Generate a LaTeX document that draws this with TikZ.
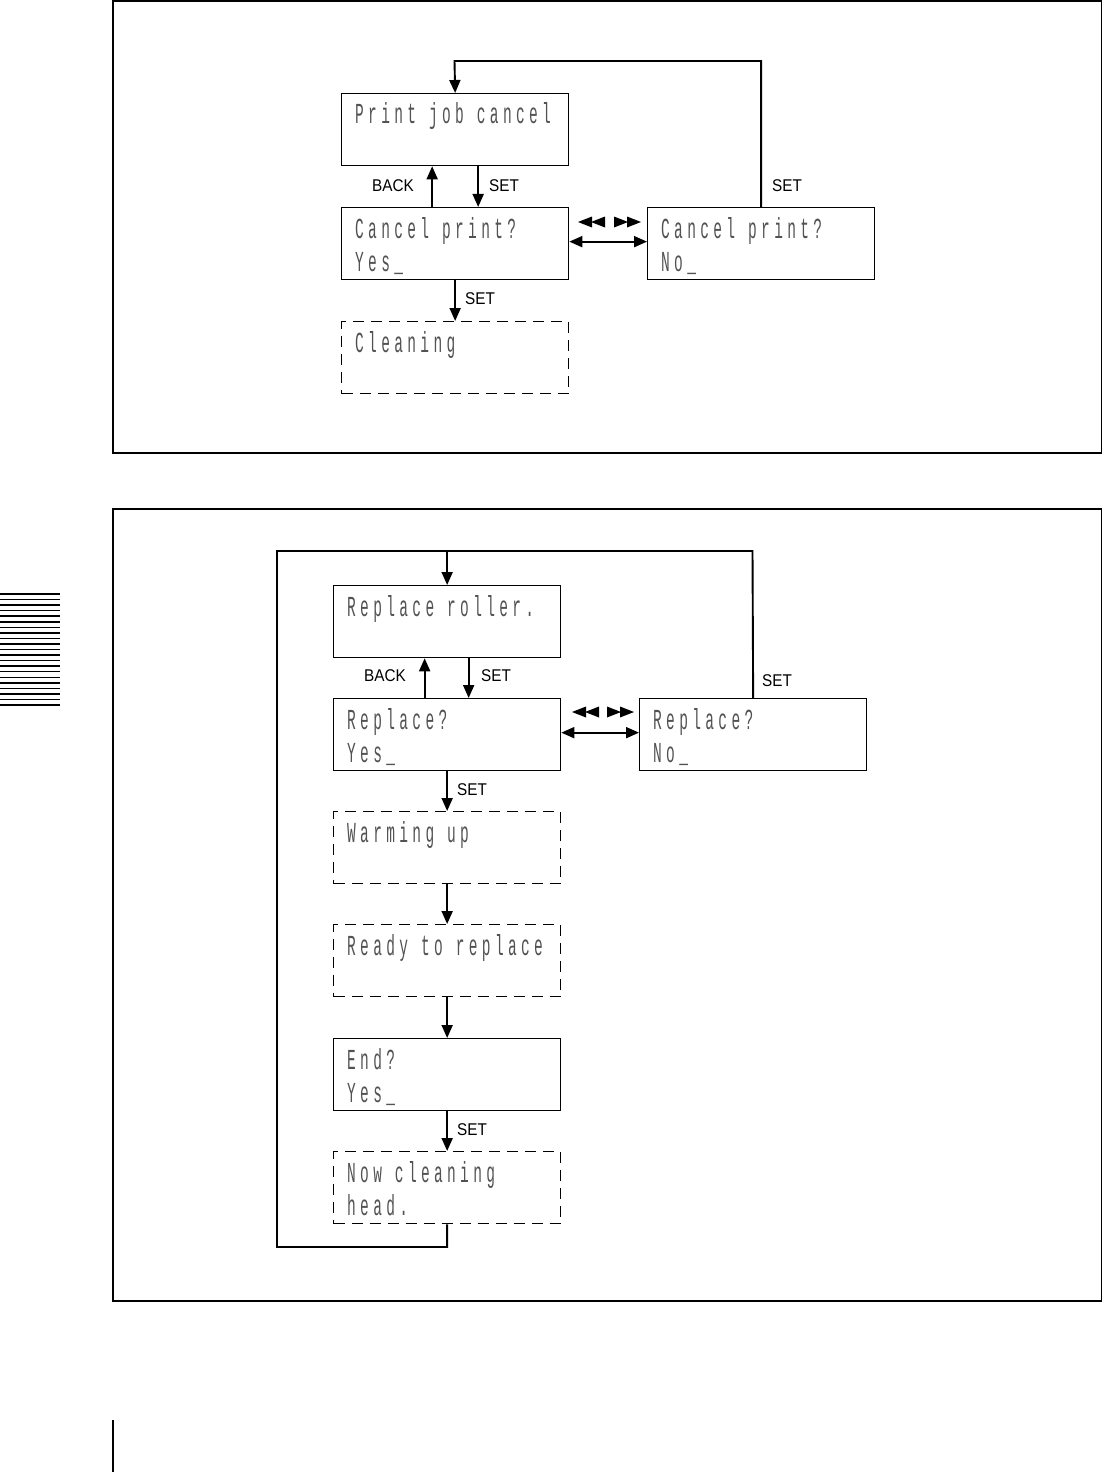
\documentclass[tikz,border=0pt]{standalone}
\usepackage{fontspec}
\setmainfont{Liberation Sans}
\newfontfamily\lcd[FakeStretch=0.5,LetterSpace=15]{Liberation Mono}
\newfontfamily\lab[FakeStretch=0.9]{Liberation Sans}
\usetikzlibrary{arrows.meta}
\newcommand\lsp{\hspace*{13bp}}
\newcommand\lcdpanel[6]{%
  \node[#2, anchor=north west] (#1) at (#3,#4) {};
  \node[lcdtext] (#1-a) at ([xshift=14bp,yshift=-31bp]#1.north west) {#5};
  \node[lcdtext] (#1-b) at ([xshift=14bp,yshift=-64bp]#1.north west) {#6};
}
\newcommand\rewsym[2]{%
  \fill (#1,#2) -- ++(14,-5.5) -- ++(0,11) -- cycle;
  \fill (#1+13,#2) -- ++(14,-5.5) -- ++(0,11) -- cycle;
}
\newcommand\ffsym[2]{%
  \fill (#1,#2) -- ++(14,0) -- ++(-14,-5.5) -- cycle;
  \fill (#1,#2) -- ++(0,5.5) -- ++(14,-5.5) -- cycle;
  \fill (#1+13,#2) -- ++(0,-5.5) -- ++(14,5.5) -- ++(-14,5.5) -- cycle;
}
\begin{document}
\begin{tikzpicture}[x=1bp,y=-1bp,
  solidbox/.style={draw, line width=1.3bp, minimum width=227bp, minimum height=72bp, inner sep=0pt},
  dashbox/.style={solidbox, dash pattern=on 11bp off 7bp},
  lcdtext/.style={anchor=base west, inner sep=0pt, font=\lcd\fontsize{29bp}{33bp}\selectfont, text=black!68},
  lbl/.style={font=\lab\fontsize{17bp}{20bp}\selectfont, inner sep=0pt},
  conn/.style={line width=1.9bp},
  arr/.style={conn, -{Triangle[length=13bp,width=11bp]}},
  arr2/.style={conn, {Triangle[length=13bp,width=11bp]}-{Triangle[length=13bp,width=11bp]}},
  frame/.style={line width=1.5bp}]
\useasboundingbox (0,0) rectangle (1103,1472);
% frames
\draw[frame] (113,1) rectangle (1101.5,453);
\draw[frame] (113,509) rectangle (1101.5,1301);
\draw[frame] (113,1420) -- (113,1472);
\foreach \i in {0,...,20} { \draw[line width=1.5bp] (0,594+\i*5.55) -- (60,594+\i*5.55); }
% top diagram
\lcdpanel{top1}{solidbox}{341}{93}{Print\lsp job\lsp cancel}{}
\lcdpanel{yes1}{solidbox}{341}{207}{Cancel\lsp print?}{Yes\_}
\lcdpanel{no1}{solidbox}{647}{207}{Cancel\lsp print?}{No\_}
\lcdpanel{cln1}{dashbox}{341}{321}{Cleaning}{}
\draw[arr] ([xshift=-23bp]yes1.north) -- ([xshift=-23bp]top1.south);
\draw[arr] ([xshift=23bp]top1.south) -- ([xshift=23bp]yes1.north);
\draw[arr] (yes1.south) -- (cln1.north);
\draw[arr2] ([yshift=2bp]yes1.east) -- ([yshift=2bp]no1.west);
\coordinate (l1) at (454.5,61);
\draw[arr] (no1.north) |- (l1) -- (top1.north);
\node[lbl] (bk1) at (393,186) {BACK};
\node[lbl] (st1) at (504,186) {SET};
\node[lbl] (st2) at (787,186) {SET};
\node[lbl] (st3) at (480,299) {SET};
\rewsym{578}{222}
\ffsym{614}{222}
% bottom diagram
\lcdpanel{rr}{solidbox}{333}{585}{Replace\lsp roller.}{}
\lcdpanel{yes2}{solidbox}{333}{698}{Replace?}{Yes\_}
\lcdpanel{no2}{solidbox}{639}{698}{Replace?}{No\_}
\lcdpanel{warm}{dashbox}{333}{811}{Warming\lsp up}{}
\lcdpanel{ready}{dashbox}{333}{924}{Ready\lsp to\lsp replace}{}
\lcdpanel{endq}{solidbox}{333}{1038}{End?}{Yes\_}
\lcdpanel{nowc}{dashbox}{333}{1151}{Now\lsp cleaning}{head.}
\draw[arr] ([xshift=-22.5bp]yes2.north) -- ([xshift=-22.5bp]rr.south);
\draw[arr] ([xshift=21.5bp]rr.south) -- ([xshift=21.5bp]yes2.north);
\draw[arr] (yes2.south) -- (warm.north);
\draw[arr] (warm.south) -- (ready.north);
\draw[arr] (ready.south) -- (endq.north);
\draw[arr] (endq.south) -- (nowc.north);
\draw[arr2] ([yshift=2bp]yes2.east) -- ([yshift=2bp]no2.west);
\coordinate (l2a) at (277,1247);
\coordinate (l2c) at (752.5,551);
\draw[conn] (nowc.south) |- (l2a) |- (l2c) -- (no2.north);
\draw[arr] (rr.north |- l2c) -- (rr.north);
\node[lbl] (bk2) at (385,676) {BACK};
\node[lbl] (st4) at (496,676) {SET};
\node[lbl] (st5) at (777,681) {SET};
\node[lbl] (st6) at (472,790) {SET};
\node[lbl] (st7) at (472,1130) {SET};
\rewsym{572}{712}
\ffsym{607}{712}
\end{tikzpicture}
\end{document}
